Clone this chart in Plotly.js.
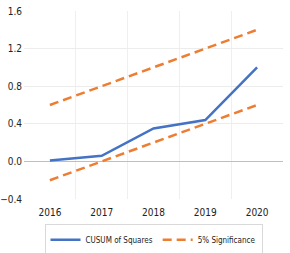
<!DOCTYPE html>
<html><head><meta charset="utf-8">
<script src="https://cdn.plot.ly/plotly-3.0.1.min.js"></script>
<style>html,body{margin:0;padding:0;background:#fff}#c{width:290px;height:253px}</style>
</head><body><div id="c"></div>
<script>
const years = ['2016','2017','2018','2019','2020'];
const cusum = [0.01, 0.06, 0.35, 0.44, 1.0];
const upper = [0.6, 0.8, 1.0, 1.2, 1.4];
const lower = [-0.2, 0.0, 0.2, 0.4, 0.6];
const yTicks = [-0.4, 0.0, 0.4, 0.8, 1.2, 1.6];

const fnt = 'DejaVu Sans Condensed, Liberation Sans Narrow, sans-serif';
const dash = '9px,5px';
const traces = [
  {x: years, y: cusum, name: 'CUSUM of Squares', mode: 'lines', line: {color: '#4472C4', width: 2.5}},
  {x: years, y: upper, name: '5% Significance', mode: 'lines', line: {color: '#ED7D31', width: 2.5, dash: dash}},
  {x: years, y: lower, name: '5% Significance', mode: 'lines', showlegend: false, line: {color: '#ED7D31', width: 2.5, dash: dash}}
];
const layout = {
  width: 290, height: 253,
  margin: {l: 24, r: 7, t: 11, b: 54, autoexpand: false},
  paper_bgcolor: '#fff', plot_bgcolor: '#fff',
  font: {family: fnt, size: 10, color: '#222'},
  showlegend: true,
  xaxis: {type: 'category', range: [-0.5, 4.5], tickson: 'boundaries', showgrid: true, gridcolor: '#efefef',
          ticks: '', ticklabelstandoff: 6, showline: false, zeroline: false, automargin: false,
          tickfont: {family: fnt, size: 10, color: '#222'}},
  yaxis: {range: [-0.4, 1.6], tickvals: yTicks, tickformat: '.1f', showgrid: true, gridcolor: '#ececec',
          zeroline: true, zerolinecolor: '#bfbfbf', zerolinewidth: 1, showline: false, ticks: '', automargin: false,
          ticklabelstandoff: 1, tickfont: {family: fnt, size: 10, color: '#222'}},
  legend: {orientation: 'h', x: 0.5, xanchor: 'center', yref: 'container', y: 0.052, yanchor: 'middle',
           bordercolor: '#d9d9d9', borderwidth: 1, font: {family: fnt, size: 8, color: '#222'},
           itemwidth: 30, tracegroupgap: 0}
};
Plotly.newPlot('c', traces, layout, {staticPlot: true, displayModeBar: false});
</script></body></html>
